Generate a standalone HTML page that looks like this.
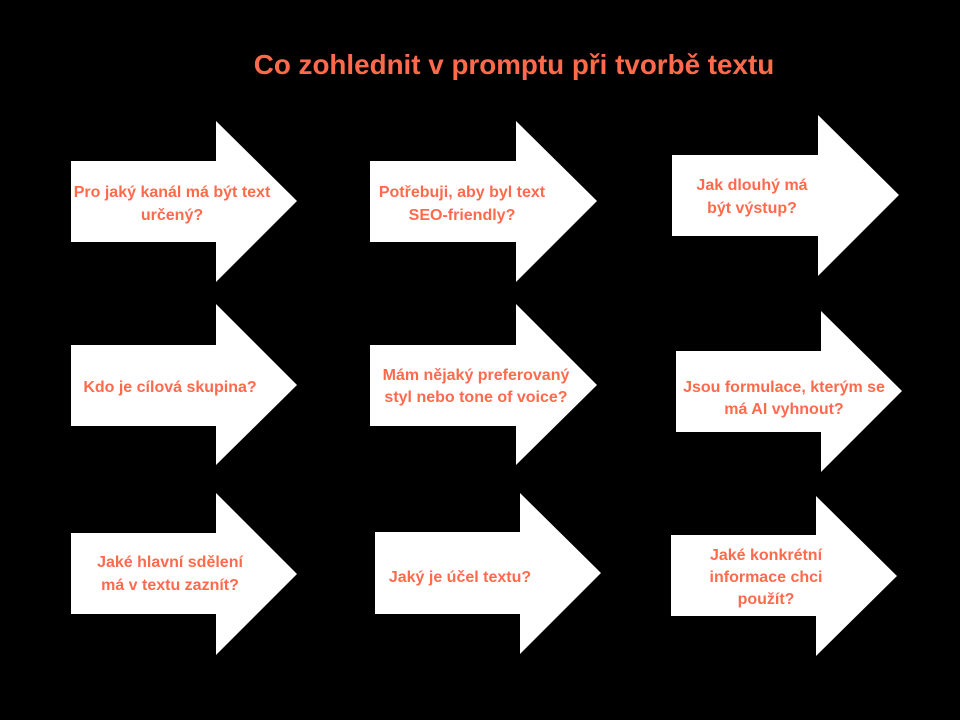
<!DOCTYPE html>
<html><head><meta charset="utf-8"><style>
html,body{margin:0;padding:0;background:#000;width:960px;height:720px;overflow:hidden}
svg text{font-family:"Liberation Sans",sans-serif;font-weight:bold;fill:#ff6a4d}
</style></head><body>
<svg width="960" height="720" viewBox="0 0 960 720">
<rect width="960" height="720" fill="#000"/>
<text x="514" y="74" font-size="27.8" text-anchor="middle">Co zohlednit v promptu při tvorbě textu</text>
<g fill="#fff">
<polygon points="71,161 216,161 216,121 297,201 216,282 216,242 71,242"/>
<polygon points="370,161 516,161 516,121 597,201 516,282 516,242 370,242"/>
<polygon points="672,155 818,155 818,115 899,195 818,276 818,236 672,236"/>
<polygon points="71,345 216,345 216,304 297,385 216,465 216,426 71,426"/>
<polygon points="370,345 516,345 516,304 597,385 516,465 516,426 370,426"/>
<polygon points="676,351 821,351 821,311 902,391 821,472 821,432 676,432"/>
<polygon points="71,533 216,533 216,493 297,574 216,655 216,614 71,614"/>
<polygon points="375,532 520,532 520,493 601,573 520,654 520,614 375,614"/>
<polygon points="671,535 816,535 816,496 897,576 816,656 816,616 671,616"/>
</g>
<g font-size="16" text-anchor="middle">
<text x="172" y="197">Pro jaký kanál má být text</text>
<text x="172" y="220">určený?</text>
<text x="462" y="197">Potřebuji, aby byl text</text>
<text x="462" y="220">SEO-friendly?</text>
<text x="752" y="190">Jak dlouhý má</text>
<text x="752" y="213">být výstup?</text>
<text x="170" y="392">Kdo je cílová skupina?</text>
<text x="476" y="380">Mám nějaký preferovaný</text>
<text x="476" y="402">styl nebo tone of voice?</text>
<text x="784" y="392">Jsou formulace, kterým se</text>
<text x="784" y="414">má AI vyhnout?</text>
<text x="170" y="567">Jaké hlavní sdělení</text>
<text x="170" y="590">má v textu zaznít?</text>
<text x="460" y="582">Jaký je účel textu?</text>
<text x="766" y="560">Jaké konkrétní</text>
<text x="766" y="582">informace chci</text>
<text x="766" y="604">použít?</text>
</g>
</svg>
</body></html>
